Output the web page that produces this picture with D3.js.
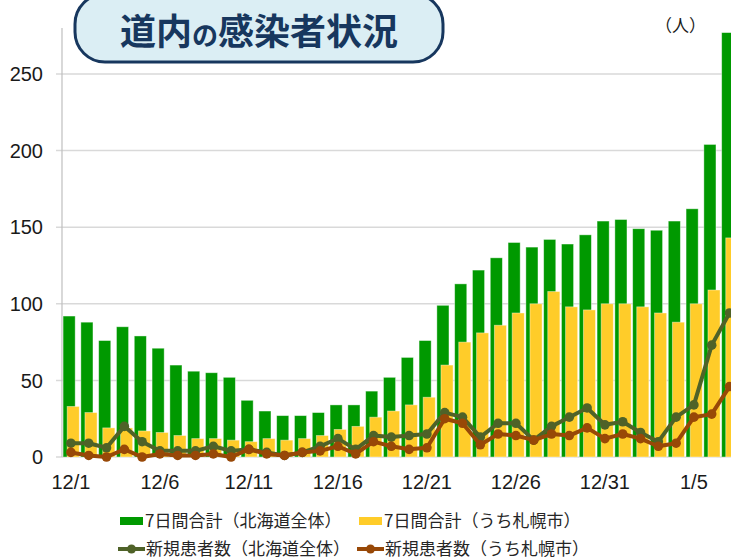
<!DOCTYPE html>
<html>
<head>
<meta charset="utf-8">
<script src="https://cdn.jsdelivr.net/npm/d3@7"></script>
<style>
  body { margin: 0; background: #fff; }
  svg { display: block; font-family: "Liberation Sans", "Noto Sans CJK JP", sans-serif; }
</style>
</head>
<body>
<div id="chart"></div>
<script>
// categories (days)
const dates = ["12/1","12/2","12/3","12/4","12/5","12/6","12/7","12/8","12/9","12/10",
  "12/11","12/12","12/13","12/14","12/15","12/16","12/17","12/18","12/19","12/20",
  "12/21","12/22","12/23","12/24","12/25","12/26","12/27","12/28","12/29","12/30",
  "12/31","1/1","1/2","1/3","1/4","1/5","1/6","1/7"];
const tickLabels = ["12/1","12/6","12/11","12/16","12/21","12/26","12/31","1/5"];
const yTicks = [0, 50, 100, 150, 200, 250];

// 7日間合計（北海道全体）
const week_all = [92,88,76,85,79,71,60,56,55,52,37,30,27,27,29,34,34,43,52,65,
  76,99,113,122,130,140,137,142,139,145,154,155,149,148,154,162,204,277];
// 7日間合計（うち札幌市）
const week_sapporo = [33,29,19,19,17,16,14,12,12,11,10,12,11,12,14,18,20,26,30,34,
  39,60,75,81,86,94,100,108,98,96,100,100,98,94,88,100,109,143];
// 新規患者数（北海道全体）
const new_all = [9,9,6,20,10,4,4,4,7,4,5,3,1,3,7,12,5,14,13,14,
  15,29,26,13,22,22,11,20,26,32,21,23,16,10,26,34,73,94];
// 新規患者数（うち札幌市）
const new_sapporo = [3,1,0,5,0,2,1,1,2,0,5,2,1,3,4,7,2,10,7,5,
  6,25,22,8,15,14,11,15,14,19,12,15,12,7,9,26,28,46];

const width = 731, height = 559;
const margin = {top: 28, left: 62, bottom: 102};

const svg = d3.select("#chart").append("svg")
    .attr("width", width)
    .attr("height", height);

let x = d3.scaleBand()
    .domain(dates)
    .range([margin.left, margin.left + dates.length * 17.8]);

let y = d3.scaleLinear()
    .domain([0, 280])
    .range([height - margin.bottom, margin.top]);

const bw = x.bandwidth();

// gridlines + y labels
svg.append("g").selectAll("line").data(yTicks).enter()
    .append("line")
    .attr("x1", margin.left - 6)
    .attr("x2", width)
    .attr("y1", d => y(d))
    .attr("y2", d => y(d))
    .attr("stroke", "#d9d9d9")
    .attr("stroke-width", 1.5);

svg.append("g").selectAll("text").data(yTicks).enter()
    .append("text")
    .attr("x", 43)
    .attr("y", d => y(d))
    .attr("dy", "0.36em")
    .attr("text-anchor", "end")
    .attr("font-size", 20)
    .attr("fill", "#1a1a1a")
    .text(d => d);

// y axis line
svg.append("line")
    .attr("x1", margin.left).attr("x2", margin.left)
    .attr("y1", margin.top).attr("y2", y(0))
    .attr("stroke", "#bfbfbf")
    .attr("stroke-width", 1.2);

// bars
svg.append("g").selectAll("rect").data(week_all).enter()
    .append("rect")
    .attr("x", (d, i) => x(dates[i]) + 0.06 * bw)
    .attr("y", d => y(d))
    .attr("width", 0.68 * bw)
    .attr("height", d => y(0) - y(d))
    .attr("fill", "#009900")
    .attr("stroke", "#ffffff")
    .attr("stroke-opacity", 0.5)
    .attr("stroke-width", 0.8);

svg.append("g").selectAll("rect").data(week_sapporo).enter()
    .append("rect")
    .attr("x", (d, i) => x(dates[i]) + 0.29 * bw)
    .attr("y", d => y(d))
    .attr("width", 0.68 * bw)
    .attr("height", d => y(0) - y(d))
    .attr("fill", "#ffcc29")
    .attr("stroke", "#ffffff")
    .attr("stroke-opacity", 0.5)
    .attr("stroke-width", 0.8);

// lines with markers
function drawLine(values, color) {
    let line = d3.line()
        .x((d, i) => x(dates[i]) + bw / 2)
        .y(d => y(d));
    svg.append("path")
        .datum(values)
        .attr("d", line)
        .attr("fill", "none")
        .attr("stroke", color)
        .attr("stroke-width", 4)
        .attr("stroke-linejoin", "round");
    svg.append("g").selectAll("circle").data(values).enter()
        .append("circle")
        .attr("cx", (d, i) => x(dates[i]) + bw / 2)
        .attr("cy", d => y(d))
        .attr("r", 4.8)
        .attr("fill", color);
}
drawLine(new_all, "#4f6228");
drawLine(new_sapporo, "#984807");

// x labels
svg.append("g").selectAll("text").data(tickLabels).enter()
    .append("text")
    .attr("x", d => x(d) + bw / 2)
    .attr("y", 489)
    .attr("text-anchor", "middle")
    .attr("font-size", 20)
    .attr("fill", "#1a1a1a")
    .text(d => d);

// title box
svg.append("rect")
    .attr("x", 75).attr("y", -6)
    .attr("width", 368).attr("height", 68)
    .attr("rx", 30)
    .attr("fill", "#dbeef4")
    .attr("stroke", "#17375e")
    .attr("stroke-width", 3);

let title = svg.append("text")
    .attr("x", 259)
    .attr("y", 45)
    .attr("text-anchor", "middle")
    .attr("font-family", "Noto Sans CJK JP")
    .attr("font-weight", "bold")
    .attr("fill", "#17375e");
title.append("tspan").attr("font-size", 36).text("道内");
title.append("tspan").attr("font-size", 26).text("の");
title.append("tspan").attr("font-size", 36).text("感染者状況");

svg.append("text")
    .attr("x", 655)
    .attr("y", 32)
    .attr("font-size", 17)
    .attr("font-family", "Noto Sans CJK JP")
    .attr("fill", "#1a1a1a")
    .text("（人）");

// legend
const legendFont = 17;
function legendBar(lx, ly, color, label) {
    svg.append("rect")
        .attr("x", lx).attr("y", ly - 4)
        .attr("width", 23).attr("height", 8)
        .attr("fill", color);
    svg.append("text")
        .attr("x", lx + 25).attr("y", ly)
        .attr("dy", "0.36em")
        .attr("font-size", legendFont)
        .attr("font-family", "Noto Sans CJK JP")
        .attr("fill", "#262626")
        .text(label);
}
function legendLine(lx, ly, color, label) {
    svg.append("line")
        .attr("x1", lx).attr("x2", lx + 27)
        .attr("y1", ly).attr("y2", ly)
        .attr("stroke", color).attr("stroke-width", 4);
    svg.append("circle")
        .attr("cx", lx + 13.5).attr("cy", ly).attr("r", 4.5)
        .attr("fill", color);
    svg.append("text")
        .attr("x", lx + 28).attr("y", ly)
        .attr("dy", "0.36em")
        .attr("font-size", legendFont)
        .attr("font-family", "Noto Sans CJK JP")
        .attr("fill", "#262626")
        .text(label);
}
legendBar(120, 521, "#009900", "7日間合計（北海道全体）");
legendBar(359, 521, "#ffcc29", "7日間合計（うち札幌市）");
legendLine(118, 549, "#4f6228", "新規患者数（北海道全体）");
legendLine(357, 549, "#984807", "新規患者数（うち札幌市）");
</script>
</body>
</html>
